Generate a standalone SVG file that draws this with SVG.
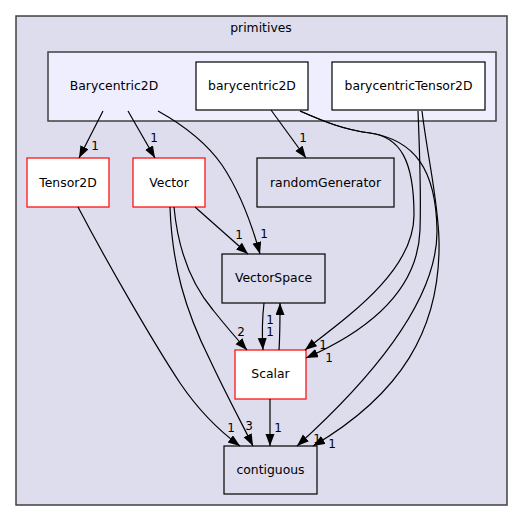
<svg xmlns="http://www.w3.org/2000/svg" width="528" height="521" viewBox="0 0 528 521">
<style>
text{font-family:"DejaVu Sans","Liberation Sans",sans-serif;font-size:12.4px;fill:#000;text-anchor:middle}
.lbl{font-size:12px}
.cl{fill:#ddddee;stroke:#404040;stroke-width:1.5}
.icl{fill:#eeeeff;stroke:#404040;stroke-width:1.5}
.nw{fill:#ffffff;stroke:#000;stroke-width:1.2}
.nr{fill:#ffffff;stroke:#ff0000;stroke-width:1.2}
.ng{fill:#ddddee;stroke:#000;stroke-width:1.2}
.e{fill:none;stroke:#000;stroke-width:1.2;marker-end:url(#arr)}
</style>
<defs>
<marker id="arr" markerUnits="userSpaceOnUse" markerWidth="13" markerHeight="10" refX="12" refY="4.5" orient="auto">
<path d="M0,0 L12,4.5 L0,9 z" fill="#000"/>
</marker>
</defs>
<rect width="528" height="521" fill="#ffffff"/>
<g id="cluster_primitives">
<rect class="cl" x="16" y="16" width="491" height="489"/>
<text x="261" y="32">primitives</text>
</g>
<g id="cluster_Barycentric2D">
<rect class="icl" x="48" y="52" width="448" height="69"/>
<text x="114" y="90">Barycentric2D</text>
</g>
<g id="node_barycentric2D">
<rect class="nw" x="196" y="62" width="112" height="48"/>
<text x="252" y="90">barycentric2D</text>
</g>
<g id="node_barycentricTensor2D">
<rect class="nw" x="332" y="62" width="153" height="48"/>
<text x="408.5" y="90">barycentricTensor2D</text>
</g>
<g id="node_Tensor2D">
<rect class="nr" x="27" y="158" width="82" height="49"/>
<text x="68" y="186.5">Tensor2D</text>
</g>
<g id="node_Vector">
<rect class="nr" x="133" y="158" width="72" height="49"/>
<text x="169" y="186.5">Vector</text>
</g>
<g id="node_randomGenerator">
<rect class="ng" x="257" y="158" width="137" height="49"/>
<text x="325.5" y="186.5">randomGenerator</text>
</g>
<g id="node_VectorSpace">
<rect class="ng" x="222" y="254" width="103" height="49"/>
<text x="273.5" y="282">VectorSpace</text>
</g>
<g id="node_Scalar">
<rect class="nr" x="235" y="350" width="71" height="49"/>
<text x="270.5" y="377.5">Scalar</text>
</g>
<g id="node_contiguous">
<rect class="ng" x="224" y="446" width="93" height="48"/>
<text x="270.5" y="473.5">contiguous</text>
</g>
<g id="connectors">
<path class="e" d="M103,111 L79,158"/>
<text class="lbl" x="95" y="150">1</text>
<path class="e" d="M128,111 L155,158"/>
<text class="lbl" x="154" y="142">1</text>
<path class="e" d="M158,111 C185,126 208,145 222,165 C240,192 252,225 260,254"/>
<text class="lbl" x="264" y="238">1</text>
<path class="e" d="M195,207 L248,254"/>
<text class="lbl" x="239" y="239">1</text>
<path class="e" d="M271,110 L306,158"/>
<text class="lbl" x="303" y="142">1</text>
<path class="e" d="M174,207 C178,250 192,285 213,310 C225,325 236,338 247,350"/>
<text class="lbl" x="241" y="336">2</text>
<path class="e" d="M170,207 C172,265 185,310 210,360 C225,392 240,420 253,446"/>
<text class="lbl" x="249" y="430">3</text>
<path class="e" d="M78,207 C110,268 155,345 180,383 C197,408 218,430 240,446"/>
<text class="lbl" x="231" y="432">1</text>
<path class="e" d="M264,303 C262,320 262,335 263,350"/>
<text class="lbl" x="270" y="324">1</text>
<path class="e" d="M279,350 C280,335 280,318 280,303"/>
<text class="lbl" x="270" y="336">1</text>
<path class="e" d="M270,399 L270,446"/>
<text class="lbl" x="278" y="432">1</text>
<path class="e" d="M300,111 C325,122 345,130 370,133 C400,137 414,160 414,215 C414,270 350,315 305,350"/>
<text class="lbl" x="323" y="349">1</text>
<path class="e" d="M418,111 C420,160 421,200 420,230 C418,290 370,330 306,358"/>
<text class="lbl" x="329" y="362">1</text>
<path class="e" d="M300,111 C325,122 345,130 370,133 C415,140 436,170 437,230 C438,300 370,380 297,446"/>
<text class="lbl" x="317" y="443">1</text>
<path class="e" d="M422,111 C428,160 438,200 439,240 C441,330 400,395 313,446"/>
<text class="lbl" x="332" y="448">1</text>
</g>
</svg>
